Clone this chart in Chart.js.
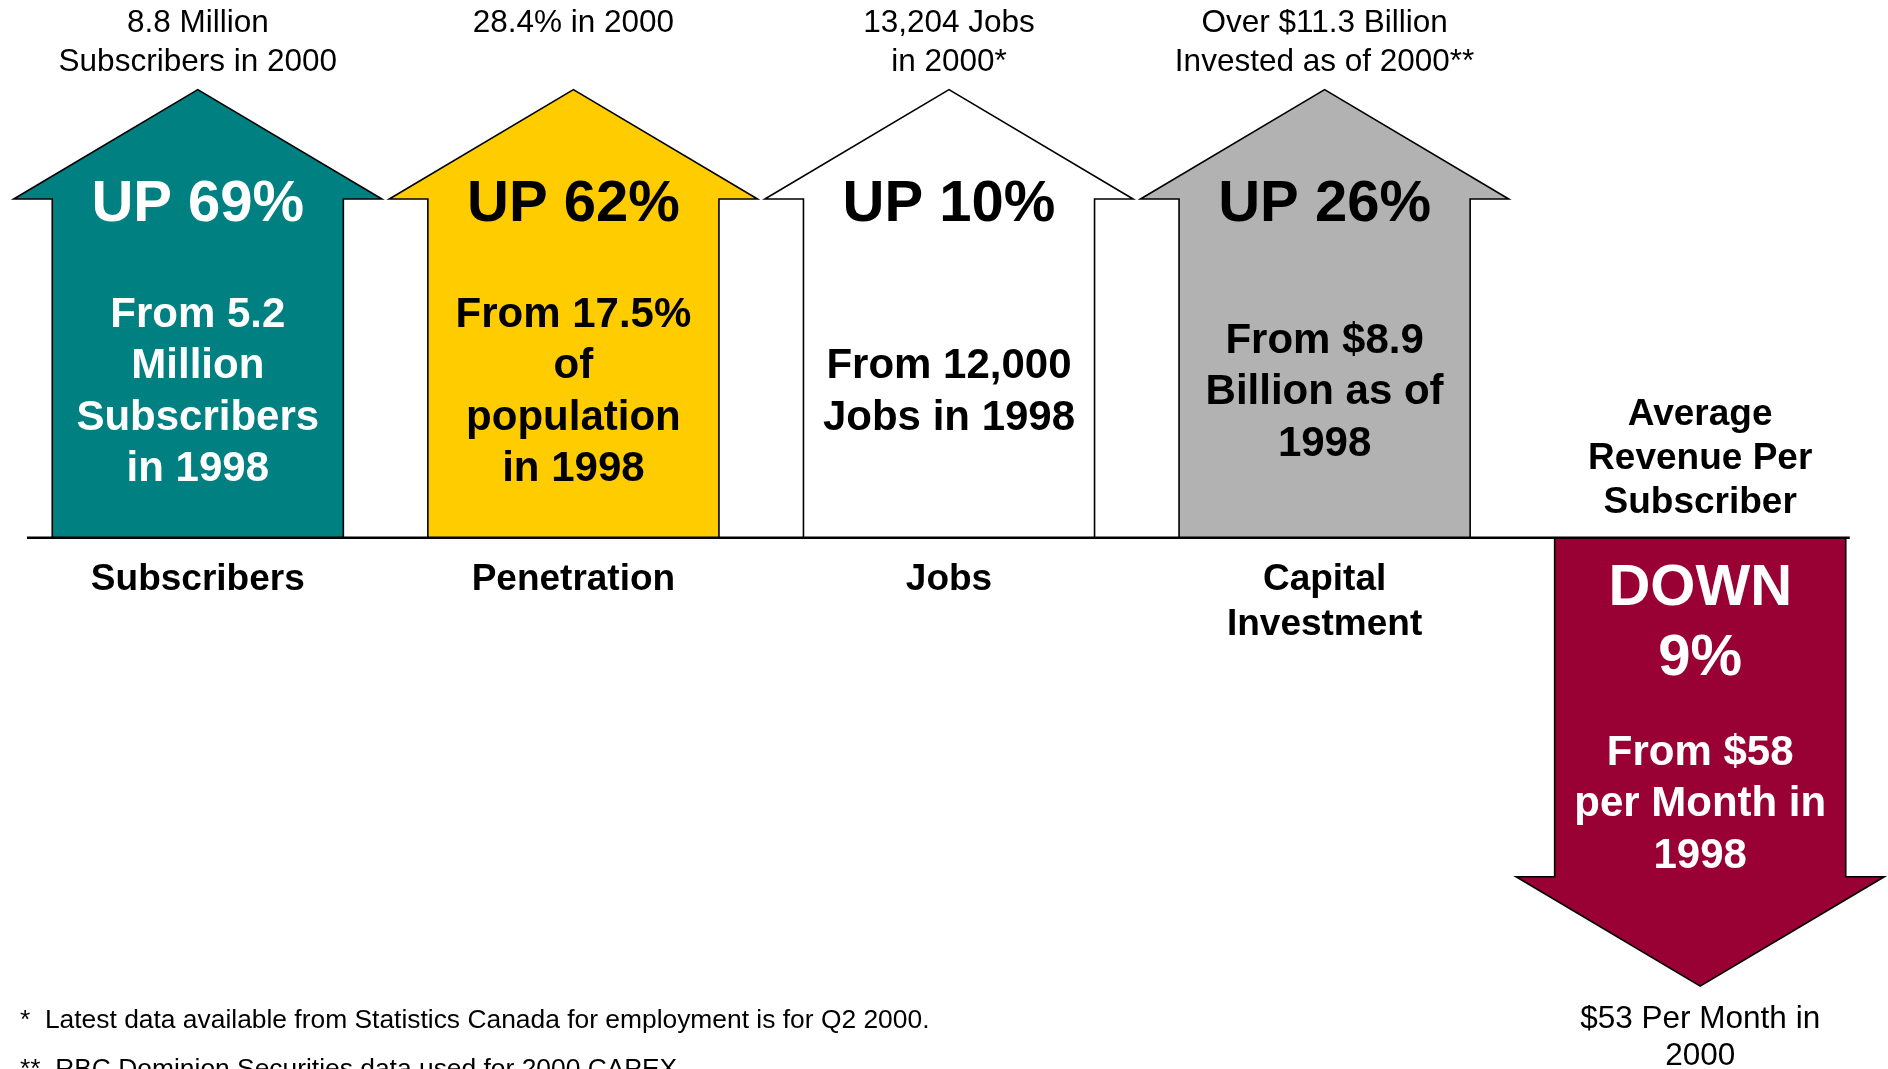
<!DOCTYPE html>
<html>
<head>
<meta charset="utf-8">
<title>Wireless industry 1998 to 2000</title>
<script src="https://cdn.jsdelivr.net/npm/chart.js@4.4.1/dist/chart.umd.min.js"></script>
<style>
  html, body { margin: 0; padding: 0; background: #ffffff; }
  #wrap { width: 1888px; height: 1069px; }
</style>
</head>
<body>
<div id="wrap"><canvas id="growthchart"></canvas></div>
<script>
// Measures, change from 1998 to 2000 (percent)
var categories = [['Subscribers'], ['Penetration'], ['Jobs'], ['Capital', 'Investment'], ['Average', 'Revenue Per', 'Subscriber']];
var changePct = [69, 62, 10, 26, -9];

// 1998 starting point, written inside each arrow
var fromText = [
    ['From 5.2', 'Million', 'Subscribers', 'in 1998'],
    ['From 17.5%', 'of', 'population', 'in 1998'],
    ['From 12,000', 'Jobs in 1998'],
    ['From $8.9', 'Billion as of', '1998'],
    ['From $58', 'per Month in', '1998']
];

// 2000 figure, written past the arrow tip
var toText = [
    ['8.8 Million', 'Subscribers in 2000'],
    ['28.4% in 2000'],
    ['13,204 Jobs', 'in 2000*'],
    ['Over $11.3 Billion', 'Invested as of 2000**'],
    ['$53 Per Month in', '2000']
];

var footnotes = [
    '*  Latest data available from Statistics Canada for employment is for Q2 2000.',
    '**  RBC Dominion Securities data used for 2000 CAPEX.'
];

var arrowColors = ['#008080', '#ffcc00', '#ffffff', '#b2b2b2', '#990033'];
var insideTextColors = ['#ffffff', '#000000', '#000000', '#000000', '#ffffff'];

var FONT = '"Liberation Sans", Arial, Helvetica, sans-serif';

function headline(v) {
    return v > 0 ? ['UP ' + v + '%'] : ['DOWN', Math.abs(v) + '%'];
}

function drawLines(ctx, lines, x, firstBaseline, lineHeight, font, color, align) {
    ctx.font = font;
    ctx.fillStyle = color;
    ctx.textAlign = align || 'center';
    ctx.textBaseline = 'alphabetic';
    lines.forEach(function (t, i) {
        ctx.fillText(t, x, firstBaseline + i * lineHeight);
    });
}

// Turns each bar into a block arrow and writes its labels
var arrowPlugin = {
    id: 'blockArrows',
    beforeDatasetDraw: function () {
        return false;
    },
    afterDatasetsDraw: function (chart) {
        var ctx = chart.ctx;
        var ds = chart.data.datasets[0];
        var meta = chart.getDatasetMeta(0);
        var zero = chart.scales.y.getPixelForValue(0);
        var area = chart.chartArea;

        ctx.save();
        meta.data.forEach(function (bar, i) {
            var up = changePct[i] > 0;
            var len = Math.abs(bar.base - bar.y);
            var half = bar.width / 2;
            var headHalf = half * 1.265;
            var headLen = len * 0.244;
            var tip = bar.y;
            var shoulder = up ? tip + headLen : tip - headLen;

            ctx.beginPath();
            ctx.moveTo(bar.x - half, zero);
            ctx.lineTo(bar.x - half, shoulder);
            ctx.lineTo(bar.x - headHalf, shoulder);
            ctx.lineTo(bar.x, tip);
            ctx.lineTo(bar.x + headHalf, shoulder);
            ctx.lineTo(bar.x + half, shoulder);
            ctx.lineTo(bar.x + half, zero);
            ctx.closePath();
            ctx.fillStyle = ds.backgroundColor[i];
            ctx.fill();
            ctx.lineWidth = 1.6;
            ctx.lineJoin = 'miter';
            ctx.strokeStyle = '#000000';
            ctx.stroke();

            var inside = insideTextColors[i];
            var head = headline(changePct[i]);
            var from = fromText[i];
            var cat = categories[i];
            var fromH = 51.5;

            if (up) {
                drawLines(ctx, head, bar.x, tip + 0.293 * len, 70, 'bold 58px ' + FONT, inside);
                var midU = tip + 0.668 * len;
                drawLines(ctx, from, bar.x, midU - (from.length - 1) * fromH / 2 + 15, fromH, 'bold 42px ' + FONT, inside);
                drawLines(ctx, toText[i], bar.x, tip - 58, 39.5, '31.5px ' + FONT, '#000000');
                drawLines(ctx, cat, bar.x, zero + 52, 45, 'bold 37px ' + FONT, '#000000');
            } else {
                drawLines(ctx, head, bar.x, zero + 0.150 * len, 70, 'bold 58px ' + FONT, inside);
                var midD = zero + 0.588 * len;
                drawLines(ctx, from, bar.x, midD - (from.length - 1) * fromH / 2 + 15, fromH, 'bold 42px ' + FONT, inside);
                drawLines(ctx, toText[i], bar.x, tip + 42, 36.5, '31.5px ' + FONT, '#000000');
                drawLines(ctx, cat, bar.x, zero - 25 - (cat.length - 1) * 44, 44, 'bold 37px ' + FONT, '#000000');
            }
        });

        // baseline across all arrows
        var last = meta.data[meta.data.length - 1];
        ctx.beginPath();
        ctx.moveTo(area.left + 17, zero);
        ctx.lineTo(last.x + last.width / 2 + 4, zero);
        ctx.lineWidth = 2.5;
        ctx.strokeStyle = '#000000';
        ctx.stroke();

        drawLines(ctx, footnotes, 20, area.bottom - 41, 49, '26.4px ' + FONT, '#000000', 'left');
        ctx.restore();
    }
};

var ctx = document.getElementById('growthchart').getContext('2d');

var growthchart = new Chart(ctx, {
    type: 'bar',
    data: {
        labels: categories,
        datasets: [{
            label: 'Change 1998-2000',
            data: changePct.map(function (v) { return v > 0 ? 1 : -1; }),
            backgroundColor: arrowColors,
            barPercentage: 0.775,
            categoryPercentage: 1
        }]
    },
    options: {
        responsive: true,
        maintainAspectRatio: false,
        animation: false,
        events: [],
        layout: {
            padding: { left: 10, right: 0, top: 0, bottom: 0 }
        },
        scales: {
            x: { display: false },
            y: { display: false, min: -1.185, max: 1.2 }
        },
        plugins: {
            legend: { display: false },
            tooltip: { enabled: false }
        }
    },
    plugins: [arrowPlugin]
});
</script>
</body>
</html>
